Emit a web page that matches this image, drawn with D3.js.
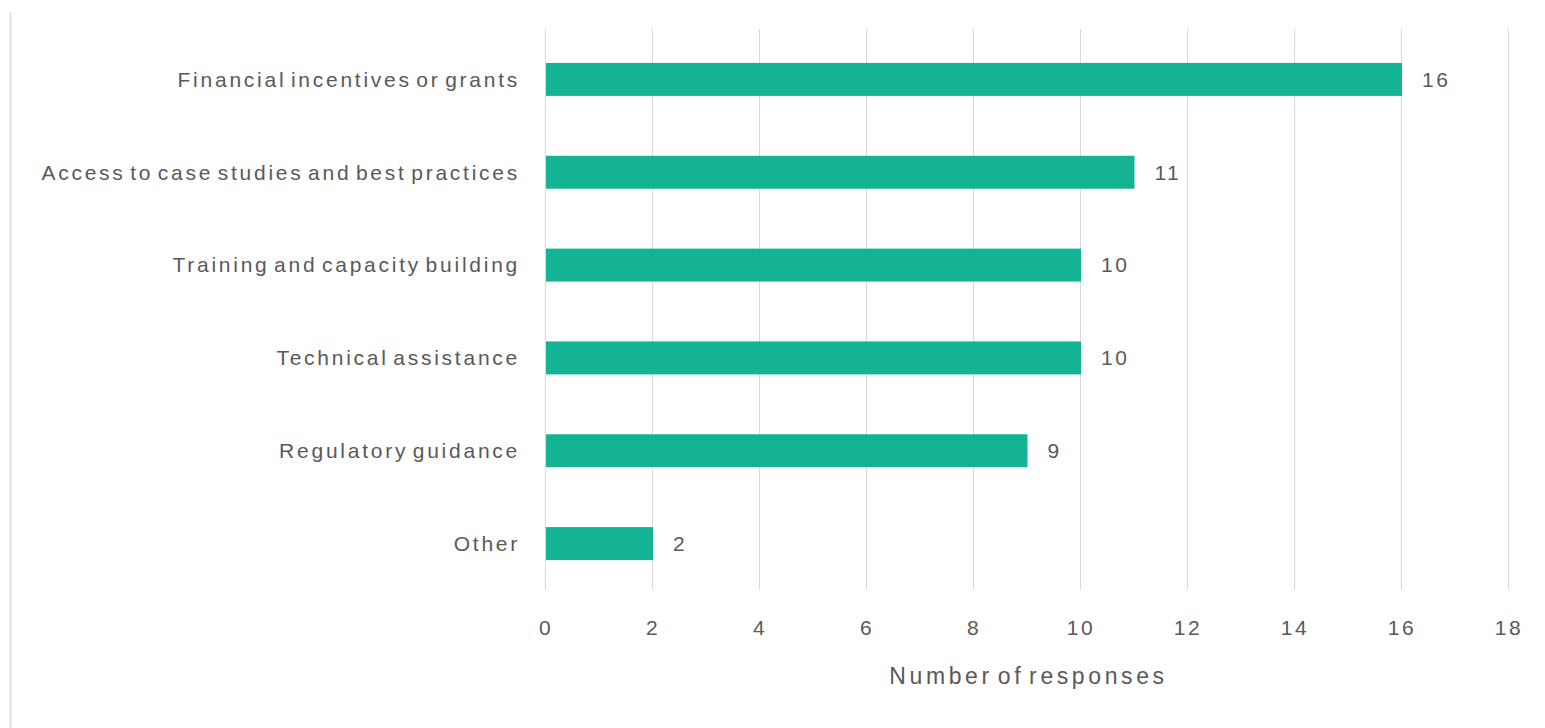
<!DOCTYPE html>
<html><head><meta charset="utf-8">
<script src="https://cdn.jsdelivr.net/npm/d3@7"></script>
<style>
html,body{margin:0;padding:0;background:#fff;}
svg text{font-family:"Liberation Sans",Arial,sans-serif;fill:#595959;}
</style></head>
<body><svg id="c" width="1545" height="728"></svg>
<script>
const categories = ["Financial incentives or grants","Access to case studies and best practices","Training and capacity building","Technical assistance","Regulatory guidance","Other"];
const values = [16, 11, 10, 10, 9, 2];
const xTicks = [0,2,4,6,8,10,12,14,16,18];
const xTitle = "Number of responses";

const svg = d3.select("#c");
const W = 1545, H = 728;
const m = {left:545, right:37, top:33, bottom:138};
const x = d3.scaleLinear().domain([0,18]).range([m.left, W - m.right]);
const y = d3.scaleBand().domain(categories).range([m.top, H - m.bottom]).paddingInner(0.645).paddingOuter(0.3225);

// left frame line
svg.append("line").attr("x1",10.5).attr("x2",10.5).attr("y1",12).attr("y2",728).attr("stroke","#d9d9d9").attr("stroke-width",1.5);

// gridlines
svg.append("g").selectAll("line").data(xTicks).join("line")
  .attr("x1",d=>x(d)+0.5).attr("x2",d=>x(d)+0.5)
  .attr("y1",m.top-4).attr("y2",H-m.bottom)
  .attr("stroke","#d9d9d9").attr("stroke-width",1);

// tick labels
svg.append("g").selectAll("text").data(xTicks).join("text")
  .attr("x",d=>x(d)+1).attr("y",628).attr("dy","0.35em")
  .attr("text-anchor","middle").attr("font-size",21).attr("letter-spacing",2.5).text(d=>d);

// bars
svg.append("g").selectAll("rect").data(values).join("rect")
  .attr("x",x(0)+1).attr("y",(d,i)=>y(categories[i]))
  .attr("width",d=>x(d)-x(0)).attr("height",y.bandwidth())
  .attr("fill","#13b394");

// value labels
svg.append("g").selectAll("text").data(values).join("text")
  .attr("x",d=>x(d)+21).attr("y",(d,i)=>y(categories[i])+y.bandwidth()/2).attr("dy","0.35em")
  .attr("font-size",21).attr("letter-spacing",2.5).text(d=>d);

// category labels
svg.append("g").selectAll("text").data(categories).join("text")
  .attr("x",x(0)-25).attr("y",d=>y(d)+y.bandwidth()/2).attr("dy","0.35em")
  .attr("text-anchor","end").attr("font-size",21).attr("letter-spacing",2.75).attr("word-spacing",-4).text(d=>d);

// axis title
svg.append("text").attr("x",(x(0)+x(18))/2+2).attr("y",676).attr("dy","0.35em")
  .attr("text-anchor","middle").attr("font-size",23).attr("letter-spacing",3.6).attr("word-spacing",-5).text(xTitle);
</script></body></html>
